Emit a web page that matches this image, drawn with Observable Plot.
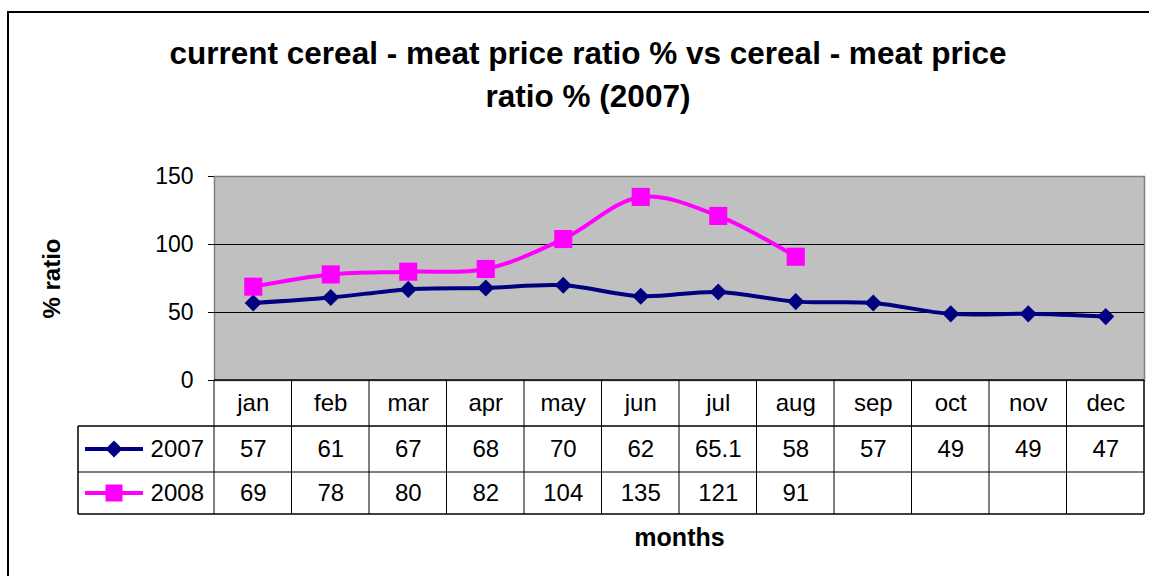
<!DOCTYPE html>
<html><head><meta charset="utf-8">
<script src="https://cdn.jsdelivr.net/npm/d3@7"></script>
<script src="https://cdn.jsdelivr.net/npm/@observablehq/plot@0.6"></script>
<style>
html,body{margin:0;padding:0;background:#fff;overflow:hidden;width:1149px;height:576px;}
#frame{position:absolute;left:7px;top:11px;width:1200px;height:700px;border:2px solid #000;box-sizing:border-box;}
#title{position:absolute;left:0;top:32px;width:1176px;text-align:center;white-space:nowrap;font:bold 31.5px "Liberation Sans",Arial,sans-serif;line-height:43px;color:#000;}
#chart{position:absolute;left:0;top:0;}
</style></head><body>
<div id="frame"></div>
<div id="title">current cereal - meat price ratio % vs cereal - meat price<br>ratio % (2007)</div>
<div id="chart"></div>
<script>
const months = ["jan","feb","mar","apr","may","jun","jul","aug","sep","oct","nov","dec"];
const values2007 = [57, 61, 67, 68, 70, 62, 65.1, 58, 57, 49, 49, 47];
const values2008 = [69, 78, 80, 82, 104, 135, 121, 91];
const labels2007 = ["57","61","67","68","70","62","65.1","58","57","49","49","47"];
const labels2008 = ["69","78","80","82","104","135","121","91"];
const seriesNames = ["2007", "2008"];
const seriesColors = ["#000080", "#FF00FF"];
const yTicks = [0, 50, 100, 150];

const font = '"Liberation Sans", Arial, sans-serif';
const rows2007 = values2007.map((v, i) => ({i, v}));
const rows2008 = values2008.map((v, i) => ({i, v}));

// table layout (pixel offsets below the plot frame)
const rowEdges = [0, 46, 92, 134];
const rowCenters = [23, 69, 113];
const legendLeft = 136; // distance left of frame where legend cells begin

function tableMark(index, scales, values, dims) {
  const g = d3.create("svg:g").attr("fill", "none");
  const x = scales.x;
  const top = dims.height - dims.marginBottom;
  const left = dims.marginLeft;
  const right = dims.width - dims.marginRight;
  const lx = left - legendLeft;
  for (let k = 0; k <= months.length; k++) {
    const xx = x(k - 0.5);
    g.append("line").attr("x1", xx).attr("x2", xx)
      .attr("y1", top).attr("y2", top + rowEdges[3])
      .attr("stroke", "#000").attr("stroke-width", (k === months.length) ? 1.5 : 1);
  }
  g.append("line").attr("x1", left).attr("x2", right).attr("y1", top).attr("y2", top)
    .attr("stroke", "#000").attr("stroke-width", 1.5);
  for (let r = 1; r <= 3; r++) {
    g.append("line").attr("x1", lx).attr("x2", right)
      .attr("y1", top + rowEdges[r]).attr("y2", top + rowEdges[r])
      .attr("stroke", "#000").attr("stroke-width", (r === 2) ? 1 : 1.5);
  }
  g.append("line").attr("x1", lx).attr("x2", lx)
    .attr("y1", top + rowEdges[1]).attr("y2", top + rowEdges[3])
    .attr("stroke", "#000").attr("stroke-width", 1.5);
  seriesNames.forEach((name, s) => {
    const cy = top + rowCenters[s + 1];
    g.append("line").attr("x1", lx + 7).attr("x2", lx + 65).attr("y1", cy).attr("y2", cy)
      .attr("stroke", seriesColors[s]).attr("stroke-width", 4);
    const mx = lx + 36;
    if (s === 0) {
      g.append("path").attr("d", `M${mx},${cy-8.5}L${mx+8.5},${cy}L${mx},${cy+8.5}L${mx-8.5},${cy}Z`)
        .attr("fill", seriesColors[s]);
    } else {
      g.append("rect").attr("x", mx - 8.5).attr("y", cy - 8.5).attr("width", 17).attr("height", 17)
        .attr("fill", seriesColors[s]);
    }
    g.append("text").attr("x", left - 10).attr("y", cy).attr("dy", "0.35em")
      .attr("text-anchor", "end").attr("fill", "#000")
      .attr("font-family", font).attr("font-size", 24).text(name);
  });
  return g.node();
}

const txt = {frameAnchor: "bottom", lineAnchor: "middle", textAnchor: "middle", fontSize: 24, fill: "#000"};

const chart = Plot.plot({
  width: 1149, height: 576,
  marginTop: 176, marginBottom: 196, marginLeft: 214, marginRight: 5,
  style: {fontFamily: font, fontSize: "23px", color: "#000", background: "transparent", overflow: "visible"},
  x: {type: "linear", domain: [-0.5, months.length - 0.5], axis: null},
  y: {domain: [0, 150], ticks: yTicks, tickSize: 6, tickPadding: 15, label: null},
  marks: [
    Plot.frame({fill: "#C0C0C0", stroke: "#808080", strokeWidth: 1.5}),
    Plot.ruleY(yTicks.filter(t => t > 0 && t < 150), {stroke: "#000", strokeWidth: 1}),
    Plot.line(rows2007, {x: "i", y: "v", stroke: seriesColors[0], strokeWidth: 4, curve: "catmull-rom"}),
    Plot.dot(rows2007, {x: "i", y: "v", symbol: "diamond2", r: 7.7, fill: seriesColors[0], stroke: "none"}),
    Plot.line(rows2008, {x: "i", y: "v", stroke: seriesColors[1], strokeWidth: 4, curve: "catmull-rom"}),
    Plot.dot(rows2008, {x: "i", y: "v", symbol: "square", r: 10.2, fill: seriesColors[1], stroke: "none"}),
    tableMark,
    Plot.text(months, {...txt, x: (d, i) => i, text: d => d, dy: rowCenters[0]}),
    Plot.text(labels2007, {...txt, x: (d, i) => i, text: d => d, dy: rowCenters[1]}),
    Plot.text(labels2008, {...txt, x: (d, i) => i, text: d => d, dy: rowCenters[2]}),
    Plot.text(["% ratio"], {text: d => d, frameAnchor: "left", lineAnchor: "middle", textAnchor: "middle", dx: -162, rotate: -90, fontWeight: "bold", fontSize: 24, fill: "#000"}),
    Plot.text(["months"], {...txt, text: d => d, dy: 157, fontWeight: "bold", fontSize: 25})
  ]
});
document.getElementById("chart").appendChild(chart);
</script>
</body></html>
